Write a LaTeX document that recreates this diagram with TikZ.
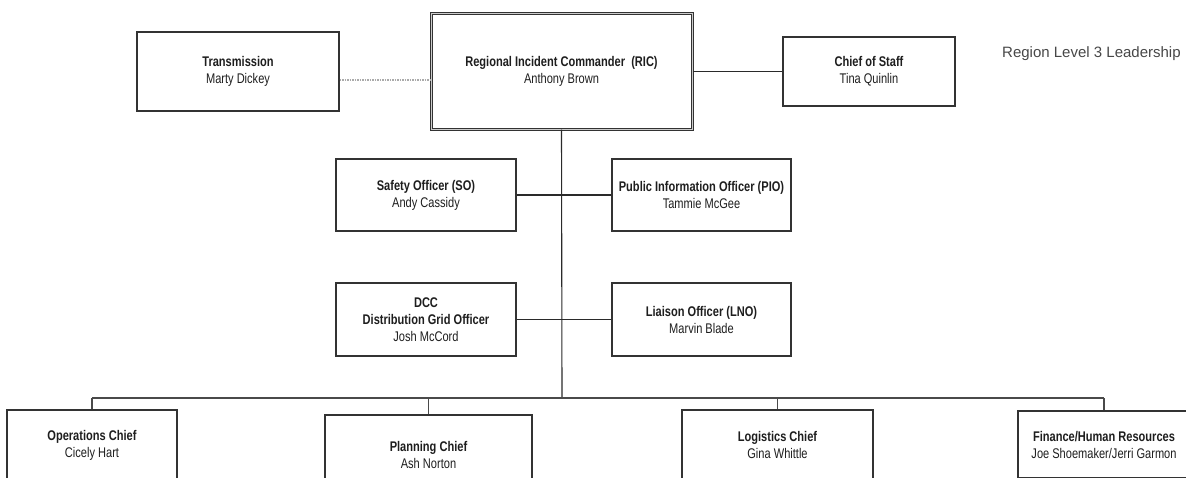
\documentclass[tikz,border=0pt]{standalone}
\usepackage{fontspec}
\setmainfont{Liberation Sans}
\newfontfamily\narrowfont[FakeStretch=0.79]{Liberation Sans}
\definecolor{boxgray}{HTML}{333333}
\definecolor{linegray}{HTML}{2A2A2A}
\definecolor{busgray}{HTML}{4A4A4A}
\definecolor{txt}{HTML}{1E1E1E}
\definecolor{dotgray}{HTML}{AAAAAA}
\begin{document}
\begin{tikzpicture}[x=1pt,y=-1pt,
  box/.style={draw=boxgray, line width=1.3pt, fill=white, align=center, inner sep=0pt,
    font=\narrowfont\fontsize{14}{17}\selectfont, text=txt},
  ricbox/.style={box, draw=boxgray, double=gray!40, double distance=0.8pt, line width=1.1pt},
  link/.style={draw=linegray, line width=1.1pt},
  buslink/.style={draw=busgray, line width=2pt},
  droplink/.style={draw=busgray, line width=1.2pt},
  dotlink/.style={draw=dotgray, line width=1.2pt, dash pattern=on 1.5pt off 1pt},
  heading/.style={anchor=west, inner sep=0pt, font=\fontsize{15}{18}\selectfont, text=black!72}
]
\useasboundingbox (0,0) rectangle (1186,477);
\clip (0,0) rectangle (1186,477);

% top row
\node[box, minimum width=202pt, minimum height=79pt] (trans) at (238,71.5)
  {\textbf{Transmission}\\Marty Dickey};
\node[ricbox, minimum width=261pt, minimum height=116pt] (ric) at (561.5,71)
  {\textbf{Regional Incident Commander\ \ (RIC)}\\Anthony Brown};
\node[box, minimum width=172pt, minimum height=69pt] (cos) at (869,71.5)
  {\textbf{Chief of Staff}\\Tina Quinlin};
\node[heading] (lvl) at (1002,54) {Region Level 3 Leadership};

% officers
\node[box, minimum width=180pt, minimum height=72pt] (so) at (426,195)
  {\textbf{Safety Officer (SO)}\\Andy Cassidy};
\node[box, minimum width=179pt, minimum height=72pt] (pio) at (701.5,195)
  {\textbf{Public Information Officer (PIO)}\\Tammie McGee};
\node[box, minimum width=180pt, minimum height=73pt] (dcc) at (426,319.5)
  {\textbf{DCC}\\\textbf{Distribution Grid Officer}\\Josh McCord};
\node[box, minimum width=179pt, minimum height=73pt] (lno) at (701.5,319.5)
  {\textbf{Liaison Officer (LNO)}\\Marvin Blade};

% sections
\node[box, minimum width=170pt, minimum height=70pt] (ops) at (92,445)
  {\textbf{Operations Chief}\\Cicely Hart};
\node[box, minimum width=207pt, minimum height=80pt] (plan) at (428.5,455)
  {\textbf{Planning Chief}\\Ash Norton};
\node[box, minimum width=191pt, minimum height=69pt] (log) at (777.5,444.5)
  {\textbf{Logistics Chief}\\Gina Whittle};
\node[box, minimum width=172pt, minimum height=67pt] (fin) at (1104,444.5)
  {\textbf{Finance/Human Resources}\\Joe Shoemaker/Jerri Garmon};

% connectors
\coordinate (bus) at (562,398);
\draw[dotlink] (trans.east |- 0,80) -- (ric.west |- 0,80);
\draw[link] (ric.east |- cos.west) -- (cos.west);
\draw[link] (ric.south) -- (bus);
\draw[link] (so.east) -- (pio.west);
\draw[link] (dcc.east) -- (lno.west);
\draw[buslink] (ops.north |- bus) -- (fin.north |- bus);
\draw[droplink] (ops.north |- bus) -- (ops.north);
\draw[droplink] (plan.north |- bus) -- (plan.north);
\draw[droplink] (log.north |- bus) -- (log.north);
\draw[droplink] (fin.north |- bus) -- (fin.north);
\end{tikzpicture}
\end{document}
